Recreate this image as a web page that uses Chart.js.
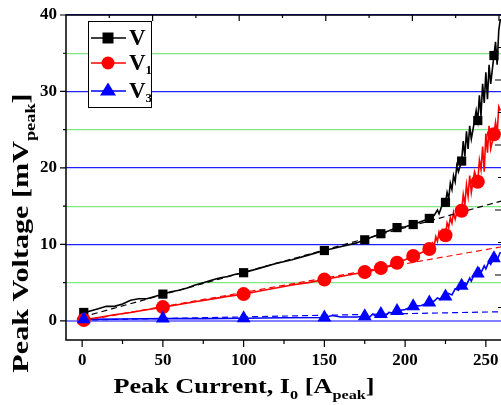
<!DOCTYPE html>
<html>
<head>
<meta charset="utf-8">
<script src="https://cdn.jsdelivr.net/npm/chart.js@4.4.0/dist/chart.umd.min.js"></script>
<style>
html, body { margin: 0; padding: 0; background: #fff; overflow: hidden; }
#wrap { position: relative; width: 510px; height: 405px; }
</style>
</head>
<body>
<div id="wrap"><canvas id="chart" width="510" height="405"></canvas></div>
<script>
// tick labels
const xTicks = [0, 50, 100, 150, 200, 250];
const yTicks = [0, 5, 10, 15, 20, 25, 30, 35, 40];

// marker positions (peak current, A)
const markerX = [1, 50, 100, 150, 175, 185, 195, 205, 215, 225, 235, 245, 255];
const vMarkers = [1.1, 3.5, 6.3, 9.2, 10.6, 11.4, 12.2, 12.6, 13.4, 15.5, 20.9, 26.2, 34.7];
const v1Markers = [0.1, 1.8, 3.5, 5.4, 6.4, 6.9, 7.6, 8.5, 9.4, 11.2, 14.4, 18.2, 24.4];
const v3Markers = [0.2, 0.3, 0.35, 0.45, 0.6, 0.9, 1.3, 1.9, 2.4, 3.2, 4.6, 6.2, 8.2];

// measured traces
const vTraceX = [0, 5, 10, 15, 20, 25, 30, 35, 40, 45, 50, 55, 60, 65, 70, 75, 80, 85, 90, 95, 100, 110, 120, 130, 140, 150, 160, 170, 175, 180, 185, 190, 195, 200, 205, 210, 215, 218, 220, 221, 223, 225, 226, 227, 228, 229, 230, 231, 232, 233, 235, 236, 237, 238, 239, 240, 241, 243, 244, 245, 246, 247, 248, 249, 250, 251, 252, 253, 255, 256, 257, 258, 259];
const vTraceY = [1.0, 1.3, 1.6, 1.9, 1.9, 2.2, 2.7, 2.9, 2.9, 3.2, 3.5, 3.8, 4.0, 4.3, 4.7, 5.0, 5.3, 5.6, 5.8, 6.1, 6.3, 6.9, 7.5, 8.0, 8.6, 9.2, 9.7, 10.2, 10.6, 11.0, 11.4, 11.8, 12.2, 12.3, 12.6, 13.0, 13.4, 13.8, 14.5, 14.0, 15.2, 15.5, 16.8, 16.0, 18.0, 17.2, 19.0, 18.2, 20.3, 19.5, 20.9, 23.5, 21.5, 24.8, 22.5, 25.5, 23.8, 26.2, 27.5, 26.2, 29.5, 26.8, 31.0, 28.5, 32.5, 29.0, 33.5, 31.0, 34.7, 36.5, 33.5, 38.0, 39.5];

const v1TraceX = [0, 10, 20, 30, 40, 50, 60, 70, 80, 90, 100, 110, 120, 130, 140, 150, 160, 170, 175, 180, 185, 190, 195, 200, 205, 210, 215, 217, 218, 219, 220, 221, 222, 223, 225, 226, 227, 228, 229, 230, 231, 233, 235, 236, 237, 238, 239, 240, 241, 243, 245, 246, 247, 248, 249, 250, 251, 252, 253, 255, 256, 257, 258, 259];
const v1TraceY = [0.1, 0.45, 0.8, 1.1, 1.45, 1.8, 2.15, 2.5, 2.85, 3.2, 3.5, 3.9, 4.3, 4.7, 5.0, 5.4, 5.8, 6.2, 6.4, 6.6, 6.9, 7.2, 7.6, 8.0, 8.5, 8.9, 9.4, 10.2, 9.8, 11.0, 10.4, 11.6, 10.9, 11.9, 11.2, 12.8, 12.2, 13.5, 12.8, 14.2, 13.3, 15.0, 14.4, 16.5, 15.2, 17.8, 16.3, 19.0, 16.8, 19.5, 18.2, 21.0, 19.8, 22.8, 19.5, 24.5, 22.0, 25.5, 22.5, 24.4, 26.0, 24.5, 28.0, 27.5];

const v3TraceX = [0, 25, 50, 75, 100, 125, 150, 155, 160, 170, 175, 178, 180, 182, 185, 188, 190, 193, 195, 200, 205, 210, 215, 218, 220, 222, 225, 227, 229, 231, 233, 235, 237, 238, 240, 241, 243, 245, 246, 247, 249, 250, 252, 253, 255, 256, 257, 259];
const v3TraceY = [0.2, 0.25, 0.3, 0.3, 0.35, 0.4, 0.45, 0.7, 0.5, 0.5, 0.6, 0.5, 0.9, 0.6, 0.9, 0.7, 1.1, 1.0, 1.3, 1.5, 1.9, 2.0, 2.4, 2.6, 3.0, 2.8, 3.2, 3.6, 3.4, 4.2, 4.0, 4.6, 5.0, 4.7, 5.6, 5.2, 6.2, 6.2, 6.8, 6.3, 7.2, 6.8, 7.8, 7.4, 8.2, 8.6, 8.0, 9.0];

// linear fits (dashed)
const fitX = [0, 260];
const vFit = [0.5, 15.7];
const v1Fit = [0.0, 9.7];
const v3Fit = [0.1, 1.2];

const serif = '"Liberation Serif", "DejaVu Serif", serif';

function pts(xs, ys) {
    return xs.map((x, i) => ({ x: x, y: ys[i] }));
}

function traceSet(xs, ys, color, order) {
    return {
        data: pts(xs, ys), showLine: true, borderColor: color, borderWidth: 1.6,
        pointRadius: 0, fill: false, tension: 0, order: order
    };
}

function fitSet(ys, color, order) {
    return {
        data: pts(fitX, ys), showLine: true, borderColor: color, borderWidth: 1.2,
        borderDash: [6, 4], pointRadius: 0, fill: false, order: order
    };
}

function markerSet(ys, color, style, radius, order) {
    return {
        data: pts(markerX, ys), showLine: false, pointStyle: style, pointRadius: radius,
        backgroundColor: color, borderColor: color, borderWidth: 0, order: order
    };
}

// draws text parts with subscripts, centred on (0,0), stretched along the line
function drawRich(ctx, parts, size, subSize, stretch) {
    ctx.save();
    ctx.scale(stretch, 1);
    const widths = parts.map(p => {
        ctx.font = 'bold ' + (p.sub ? subSize : size) + 'px ' + serif;
        return ctx.measureText(p.t).width;
    });
    const total = widths.reduce((a, b) => a + b, 0);
    let x = -total / 2;
    parts.forEach((p, i) => {
        ctx.font = 'bold ' + (p.sub ? subSize : size) + 'px ' + serif;
        ctx.fillText(p.t, x, p.sub ? size * 0.3 : 0);
        x += widths[i];
    });
    ctx.restore();
}

const framePlugin = {
    id: 'frame',
    afterDatasetsDraw(chart) {
        const ctx = chart.ctx;
        const a = chart.chartArea;
        const xs = chart.scales.x, ys = chart.scales.y;
        const xt = chart.scales.xTop, yr = chart.scales.yRight;
        ctx.save();
        ctx.strokeStyle = '#000';
        ctx.lineWidth = 1.5;
        ctx.strokeRect(a.left, a.top, a.right - a.left, a.bottom - a.top);
        ctx.lineWidth = 1.2;
        ctx.beginPath();
        // left ticks, outward
        for (let v = 0; v <= 40; v += 5) {
            const p = ys.getPixelForValue(v);
            const len = v % 10 === 0 ? 6 : 3;
            ctx.moveTo(a.left - len, p); ctx.lineTo(a.left, p);
        }
        // bottom ticks, outward
        for (let v = 0; v <= 250; v += 25) {
            const p = xs.getPixelForValue(v);
            const len = v % 50 === 0 ? 7 : 4;
            ctx.moveTo(p, a.bottom); ctx.lineTo(p, a.bottom + len);
        }
        // top ticks, inward
        for (let v = 1; v <= 10; v++) {
            const p = xt.getPixelForValue(v);
            const len = v % 2 === 0 ? 6 : 3;
            ctx.moveTo(p, a.top); ctx.lineTo(p, a.top + len);
        }
        // right ticks, inward
        for (let v = 1; v <= 9; v++) {
            const p = yr.getPixelForValue(v);
            const len = v % 2 === 0 ? 7 : 4;
            ctx.moveTo(a.right, p); ctx.lineTo(a.right - len, p);
        }
        ctx.stroke();

        // legend
        ctx.fillStyle = '#fff';
        ctx.fillRect(88, 21, 63, 86);
        ctx.lineWidth = 1;
        ctx.strokeRect(88.5, 21.5, 63, 86);
        const entries = [
            { color: '#000', style: 'square', parts: [{ t: 'V' }], y: 38 },
            { color: '#ff0000', style: 'circle', parts: [{ t: 'V' }, { t: '1', sub: true }], y: 63 },
            { color: '#0000ff', style: 'triangle', parts: [{ t: 'V' }, { t: '3', sub: true }], y: 91 }
        ];
        entries.forEach(e => {
            ctx.strokeStyle = e.color;
            ctx.lineWidth = 1.6;
            ctx.beginPath();
            ctx.moveTo(91, e.y); ctx.lineTo(126, e.y);
            ctx.stroke();
            ctx.fillStyle = e.color;
            ctx.beginPath();
            if (e.style === 'square') {
                ctx.rect(102.5, e.y - 5.5, 11, 11);
            } else if (e.style === 'circle') {
                ctx.arc(108, e.y, 6.5, 0, Math.PI * 2);
            } else {
                ctx.moveTo(108, e.y - 8.5); ctx.lineTo(116, e.y + 4.5); ctx.lineTo(100, e.y + 4.5); ctx.closePath();
            }
            ctx.fill();
            ctx.fillStyle = '#000';
            ctx.textBaseline = 'middle';
            ctx.textAlign = 'left';
            let x = 129;
            e.parts.forEach(p => {
                ctx.font = 'bold ' + (p.sub ? 13 : 23) + 'px ' + serif;
                ctx.fillText(p.t, x, e.y + (p.sub ? 8 : 1));
                x += ctx.measureText(p.t).width;
            });
        });

        // axis titles
        ctx.fillStyle = '#000';
        ctx.textBaseline = 'alphabetic';
        ctx.textAlign = 'left';
        ctx.save();
        ctx.translate(244, 393);
        drawRich(ctx, [{ t: 'Peak Current, I' }, { t: '0', sub: true }, { t: ' [A' }, { t: 'peak', sub: true }, { t: ']' }], 21, 13, 1.25);
        ctx.restore();
        ctx.save();
        ctx.translate(28, 233);
        ctx.rotate(-Math.PI / 2);
        drawRich(ctx, [{ t: 'Peak Voltage [mV' }, { t: 'peak', sub: true }, { t: ']' }], 23, 14, 1.31);
        ctx.restore();
        ctx.restore();
    }
};

new Chart(document.getElementById('chart'), {
    type: 'scatter',
    data: {
        datasets: [
            traceSet(vTraceX, vTraceY, '#000000', 9),
            traceSet(v1TraceX, v1TraceY, '#ff0000', 8),
            traceSet(v3TraceX, v3TraceY, '#0000ff', 7),
            fitSet(vFit, '#000000', 6),
            fitSet(v1Fit, '#ff0000', 5),
            fitSet(v3Fit, '#0000ff', 4),
            markerSet(vMarkers, '#000000', 'rect', 6.5, 3),
            markerSet(v1Markers, '#ff0000', 'circle', 7, 2),
            markerSet(v3Markers, '#0000ff', 'triangle', 8, 1)
        ]
    },
    options: {
        responsive: false,
        animation: false,
        layout: { padding: { top: 15, right: 5, left: 0, bottom: 0 } },
        plugins: { legend: { display: false }, tooltip: { enabled: false } },
        scales: {
            x: {
                type: 'linear', min: -10, max: 260,
                afterBuildTicks: s => { s.ticks = xTicks.map(v => ({ value: v })); },
                afterFit: s => { s.height = 65; s.paddingLeft = 0; s.paddingRight = 0; },
                grid: { display: false, drawTicks: false },
                border: { display: false },
                ticks: { color: '#000', padding: 10, font: { family: serif, size: 17, weight: 'bold' } }
            },
            y: {
                type: 'linear', min: -2.5, max: 40,
                afterBuildTicks: s => { s.ticks = yTicks.map(v => ({ value: v })); },
                afterFit: s => { s.width = 66; s.paddingTop = 0; s.paddingBottom = 0; },
                grid: {
                    drawTicks: false,
                    color: c => c.tick.value === 0 ? '#8080ff' : (c.tick.value % 10 === 0 ? '#2020ff' : '#80e880'),
                    lineWidth: c => c.tick.value === 0 ? 2 : 1.2
                },
                border: { display: false },
                ticks: {
                    color: '#000', padding: 9,
                    font: { family: serif, size: 17, weight: 'bold' },
                    callback: v => (v % 10 === 0 ? v : '')
                }
            },
            xTop: { type: 'linear', position: 'top', min: 0, max: 10.07, display: false },
            yRight: { type: 'linear', position: 'right', min: 0, max: 10, display: false }
        }
    },
    plugins: [framePlugin]
});
</script>
</body>
</html>
